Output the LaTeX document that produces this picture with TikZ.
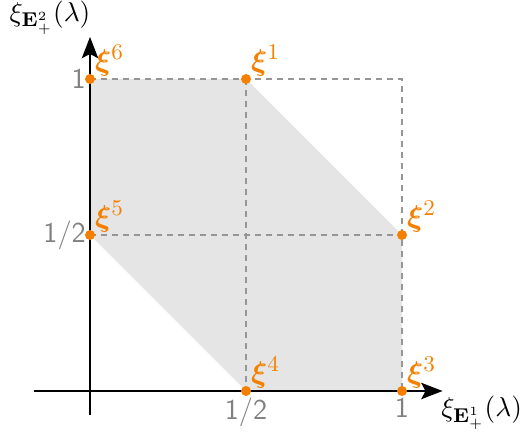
\documentclass[tikz,border=0pt]{standalone}
\usepackage{amsmath,bm}
\usetikzlibrary{arrows.meta,positioning}
\definecolor{tangerine}{RGB}{245,128,0}
\definecolor{ash}{RGB}{128,128,128}
\definecolor{dashgray}{RGB}{150,150,150}
\definecolor{haze}{RGB}{229,229,229}
\tikzset{
  >={Stealth[length=3mm,width=2.3mm,inset=0.6mm]},
  axis/.style={->,line width=0.8pt,draw=black},
  grid line/.style={draw=dashgray,line width=0.6pt,dash pattern=on 2.4pt off 2pt},
  dot/.style={circle,fill=tangerine,inner sep=0pt,minimum size=4pt},
  vlabel/.style={text=tangerine,inner sep=0.3pt,anchor=south west,font=\fontsize{13}{15}\selectfont},
  tick/.style={text=ash,font=\fontsize{11.5}{13}\selectfont\sffamily,inner sep=1.5pt},
  axlabel/.style={font=\fontsize{11}{13}\selectfont},
}
\begin{document}
\begin{tikzpicture}[x=4.386cm,y=4.386cm]
  \useasboundingbox (-0.2885,-0.1763) rectangle (1.3814,1.2532);
  % corners of the region
  \coordinate (p1) at (0.5,1);
  \coordinate (p2) at (1,0.5);
  \coordinate (p3) at (1,0);
  \coordinate (p4) at (0.5,0);
  \coordinate (p5) at (0,0.5);
  \coordinate (p6) at (0,1);
  \coordinate (top) at (1,1);
  \fill[haze] (p6) -- (p1) -- (p2) -- (p3) -- (p4) -- (p5) -- cycle;
  % dashed guides
  \draw[grid line] (p6) -- (top) -- (p3);
  \draw[grid line] (p1) -- (p4);
  \draw[grid line] (p5) -- (p2);
  % axes
  \coordinate (xs) at (-0.18,0);
  \coordinate (xe) at (1.13,0);
  \coordinate (ys) at (0,-0.078);
  \coordinate (ye) at (0,1.135);
  \draw[axis] (xs) -- (xe);
  \draw[axis] (ys) -- (ye);
  \node[axlabel] (xlab) at (1.255,-0.07) {$\xi_{\mathbf{E}_+^1}(\lambda)$};
  \node[axlabel] (ylab) at (-0.128,1.197) {$\xi_{\mathbf{E}_+^2}(\lambda)$};
  % ticks
  \node[tick,anchor=east] (t6) at (p6) {1};
  \node[tick,anchor=east] (t5) at (p5) {1/2};
  \node[tick,anchor=north] (t4) at ([yshift=-1pt]p4) {1/2};
  \node[tick,anchor=north] (t3) at ([yshift=-1pt]p3) {1};
  % vertices
  \foreach \i in {1,...,6}{
    \node[dot] (d\i) at (p\i) {};
    \node[vlabel] (l\i) at ([yshift=-1pt]d\i.north east) {$\bm{\xi}^{\i}$};
  }
\end{tikzpicture}
\end{document}
